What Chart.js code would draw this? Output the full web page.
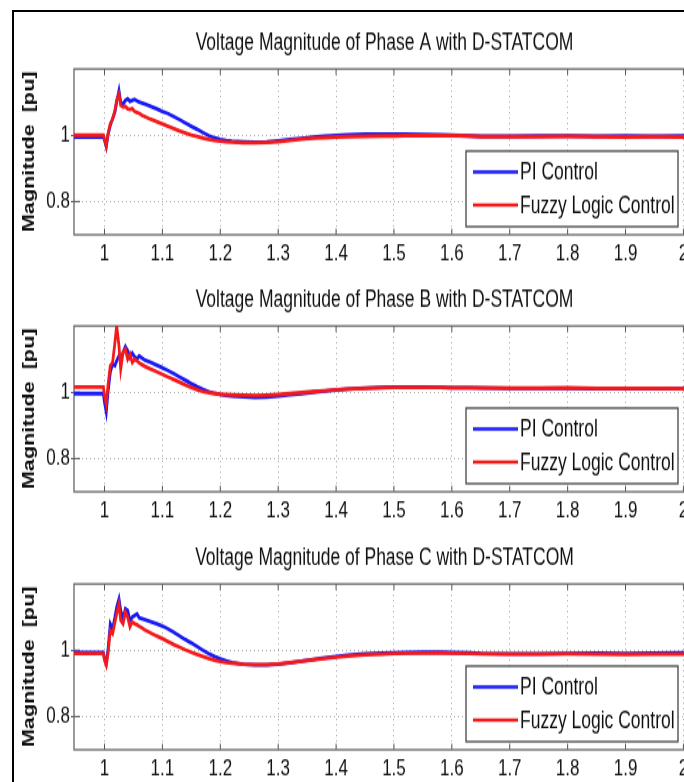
<!DOCTYPE html>
<html>
<head>
<meta charset="utf-8">
<title>Voltage Magnitude with D-STATCOM</title>
<script src="https://cdn.jsdelivr.net/npm/chart.js@4.4.1/dist/chart.umd.min.js"></script>
<style>
  html, body { margin: 0; padding: 0; background: #fff; }
  body { width: 684px; height: 782px; overflow: hidden; position: relative; }
  .frame { position: absolute; left: 12px; top: 10px; width: 720px; height: 820px; border: 2px solid #000; }
  .panel { position: absolute; left: 0; }
</style>
</head>
<body>
<div class="frame"></div>
<!-- each panel is drawn 215px tall and shown 290px tall, like the stretched figure export -->
<canvas id="phaseA" class="panel" width="695" height="215" style="top:0px;width:695px;height:290px"></canvas>
<canvas id="phaseB" class="panel" width="695" height="215" style="top:257px;width:695px;height:290px"></canvas>
<canvas id="phaseC" class="panel" width="695" height="215" style="top:515px;width:695px;height:290px"></canvas>

<script>
// time axis [s], shared by all three phases
const timeS = [0.947, 0.99, 0.998, 1.0, 1.003, 1.006, 1.01, 1.014, 1.018, 1.021, 1.025, 1.028, 1.032, 1.036, 1.04, 1.044, 1.048, 1.052, 1.056, 1.06, 1.065, 1.07, 1.08, 1.09, 1.1, 1.11, 1.12, 1.13, 1.14, 1.15, 1.16, 1.17, 1.18, 1.19, 1.2, 1.21, 1.22, 1.24, 1.26, 1.28, 1.3, 1.32, 1.34, 1.36, 1.38, 1.4, 1.42, 1.45, 1.48, 1.5, 1.52, 1.55, 1.58, 1.6, 1.63, 1.65, 1.7, 1.75, 1.8, 1.85, 1.9, 1.95, 2.0, 2.02];

const phaseA_PI = [0.995, 0.995, 0.995, 0.985, 0.965, 1.0, 1.03, 1.05, 1.07, 1.1, 1.135, 1.1, 1.095, 1.105, 1.11, 1.102, 1.105, 1.108, 1.104, 1.1, 1.097, 1.094, 1.087, 1.08, 1.072, 1.065, 1.056, 1.047, 1.037, 1.027, 1.018, 1.008, 0.999, 0.992, 0.987, 0.984, 0.982, 0.98, 0.979, 0.98, 0.983, 0.987, 0.99, 0.994, 0.997, 0.999, 1.001, 1.003, 1.004, 1.004, 1.003, 1.002, 1.001, 1.0, 0.998, 0.997, 0.997, 0.998, 0.998, 0.997, 0.998, 0.997, 0.998, 0.998];
const phaseA_Fuzzy = [1.0, 1.0, 1.0, 0.99, 0.968, 1.005, 1.035, 1.048, 1.075, 1.105, 1.125, 1.09, 1.085, 1.087, 1.08, 1.078, 1.08, 1.072, 1.069, 1.066, 1.06, 1.056, 1.048, 1.041, 1.034, 1.027, 1.02, 1.013, 1.007, 1.001, 0.996, 0.991, 0.987, 0.984, 0.982, 0.98, 0.979, 0.977, 0.977, 0.978, 0.98, 0.984, 0.988, 0.991, 0.993, 0.995, 0.996, 0.997, 0.998, 0.998, 0.999, 0.999, 0.999, 0.999, 0.998, 0.996, 0.996, 0.996, 0.997, 0.996, 0.995, 0.996, 0.995, 0.995];

const phaseB_PI = [0.996, 0.996, 0.996, 0.97, 0.94, 1.0, 1.06, 1.085, 1.08, 1.095, 1.11, 1.1, 1.12, 1.138, 1.125, 1.105, 1.118, 1.107, 1.1, 1.11, 1.103, 1.097, 1.09, 1.082, 1.074, 1.065, 1.056, 1.046, 1.036, 1.026, 1.017, 1.009, 1.002, 0.997, 0.993, 0.99, 0.988, 0.986, 0.984, 0.985, 0.988, 0.992, 0.996, 1.0, 1.004, 1.007, 1.01, 1.013, 1.015, 1.016, 1.016, 1.016, 1.015, 1.014, 1.014, 1.013, 1.012, 1.012, 1.012, 1.011, 1.011, 1.011, 1.011, 1.011];
const phaseB_Fuzzy = [1.016, 1.016, 1.016, 0.99, 0.965, 1.02, 1.08, 1.09, 1.15, 1.2, 1.14, 1.07, 1.12, 1.13, 1.1, 1.115, 1.09, 1.1, 1.095, 1.088, 1.083, 1.078, 1.07, 1.062, 1.054, 1.046, 1.038, 1.03, 1.022, 1.015, 1.008, 1.003, 0.999, 0.996, 0.994, 0.993, 0.992, 0.991, 0.99, 0.991, 0.993, 0.996, 0.999, 1.002, 1.005, 1.008, 1.01, 1.012, 1.014, 1.015, 1.015, 1.015, 1.015, 1.014, 1.014, 1.014, 1.013, 1.013, 1.014, 1.012, 1.012, 1.012, 1.011, 1.011];

const phaseC_PI = [0.993, 0.993, 0.993, 0.975, 0.96, 1.0, 1.08, 1.065, 1.1, 1.13, 1.155, 1.12, 1.095, 1.125, 1.12, 1.09, 1.1, 1.105, 1.11, 1.098, 1.095, 1.092, 1.086, 1.08, 1.073, 1.064, 1.054, 1.043, 1.032, 1.022, 1.011, 1.0, 0.99, 0.981, 0.974, 0.968, 0.963, 0.958, 0.956, 0.956, 0.958, 0.962, 0.967, 0.972, 0.977, 0.981, 0.985, 0.989, 0.991, 0.992, 0.993, 0.994, 0.994, 0.993, 0.992, 0.99, 0.989, 0.989, 0.99, 0.991, 0.99, 0.991, 0.992, 0.992];
const phaseC_Fuzzy = [0.99, 0.99, 0.99, 0.97, 0.955, 0.99, 1.06, 1.05, 1.085, 1.11, 1.14, 1.09, 1.08, 1.115, 1.1, 1.07, 1.085, 1.08, 1.077, 1.072, 1.067, 1.061, 1.052, 1.043, 1.035, 1.026, 1.017, 1.009, 1.001, 0.994, 0.987, 0.981, 0.975, 0.97, 0.966, 0.963, 0.961, 0.958, 0.957, 0.957, 0.959, 0.963, 0.967, 0.971, 0.975, 0.979, 0.982, 0.986, 0.988, 0.99, 0.991, 0.991, 0.992, 0.991, 0.99, 0.989, 0.988, 0.988, 0.989, 0.988, 0.987, 0.988, 0.988, 0.988];

const xTicks = [1, 1.1, 1.2, 1.3, 1.4, 1.5, 1.6, 1.7, 1.8, 1.9, 2];
const yTicks = [0.8, 1];
const seriesLabels = ["PI Control", "Fuzzy Logic Control"];
const panelTitles = [
  "Voltage Magnitude of Phase A with D-STATCOM",
  "Voltage Magnitude of Phase B with D-STATCOM",
  "Voltage Magnitude of Phase C with D-STATCOM",
];

const SANS = "'Liberation Sans', Arial, Helvetica, sans-serif";
const TEXT = "#111";

function toPoints(values) {
  return values.map((v, i) => ({ x: timeS[i], y: v }));
}

// box around the axes with inward ticks
const axesBox = {
  id: "axesBox",
  beforeDatasetsDraw(chart) {
    const { ctx, chartArea: a, scales } = chart;
    ctx.save();
    ctx.strokeStyle = "#555";
    ctx.lineWidth = 1;
    ctx.beginPath();
    scales.x.ticks.forEach((t) => {
      const px = scales.x.getPixelForValue(t.value);
      ctx.moveTo(px, a.bottom);
      ctx.lineTo(px, a.bottom - 4.5);
      ctx.moveTo(px, a.top);
      ctx.lineTo(px, a.top + 4.5);
    });
    scales.y.ticks.forEach((t) => {
      const py = scales.y.getPixelForValue(t.value);
      ctx.moveTo(a.left, py);
      ctx.lineTo(a.left + 6, py);
    });
    ctx.stroke();
    ctx.strokeStyle = "#666";
    ctx.lineWidth = 1.3;
    ctx.strokeRect(a.left, a.top, a.right - a.left, a.bottom - a.top);
    ctx.restore();
  },
};

// legend box in the lower right corner of the axes
const legendBox = {
  id: "legendBox",
  afterDatasetsDraw(chart) {
    const { ctx, chartArea: a } = chart;
    const w = 212, h = 56;
    const x0 = a.right - 17 - w;
    const y0 = a.bottom - 6 - h;
    ctx.save();
    ctx.fillStyle = "#fff";
    ctx.fillRect(x0, y0, w, h);
    ctx.strokeStyle = "#444";
    ctx.lineWidth = 1.3;
    ctx.strokeRect(x0, y0, w, h);
    chart.data.datasets.forEach((ds, i) => {
      const y = y0 + 15.5 + i * 24.5;
      ctx.strokeStyle = ds.borderColor;
      ctx.lineWidth = 2.6;
      ctx.beginPath();
      ctx.moveTo(x0 + 7, y);
      ctx.lineTo(x0 + 52, y);
      ctx.stroke();
      ctx.fillStyle = TEXT;
      ctx.font = "17.5px " + SANS;
      ctx.textBaseline = "middle";
      ctx.fillText(ds.label, x0 + 54, y + 1);
    });
    ctx.restore();
  },
};

function makePanel(canvasId, title, piValues, fuzzyValues) {
  const ctx = document.getElementById(canvasId).getContext("2d");
  new Chart(ctx, {
    type: "line",
    data: {
      datasets: [
        {
          label: seriesLabels[0],
          data: toPoints(piValues),
          borderColor: "#1a1af2",
          borderWidth: 2.8,
          pointRadius: 0,
          tension: 0,
          order: 1,
        },
        {
          label: seriesLabels[1],
          data: toPoints(fuzzyValues),
          borderColor: "#f21a1a",
          borderWidth: 2.8,
          pointRadius: 0,
          tension: 0,
          order: 0,
        },
      ],
    },
    options: {
      responsive: false,
      animation: false,
      layout: { padding: 0 },
      plugins: {
        legend: { display: false },
        tooltip: { enabled: false },
        title: {
          display: true,
          fullSize: false,
          text: title,
          color: TEXT,
          font: { family: SANS, size: 17.5, weight: "normal" },
          padding: { top: 21.4, bottom: 8.7 },
        },
      },
      scales: {
        x: {
          type: "linear",
          min: 0.9473,
          max: 2.02,
          afterBuildTicks: (scale) => { scale.ticks = xTicks.map((v) => ({ value: v })); },
          afterFit: (scale) => { scale.height = 41; },
          grid: { color: "#a8a8a8", lineWidth: 1, drawTicks: false },
          border: { display: false, dash: [1, 3] },
          ticks: {
            color: TEXT,
            padding: 3.8,
            maxRotation: 0,
            autoSkip: false,
            font: { family: SANS, size: 17 },
            callback: (v) => String(v),
          },
        },
        y: {
          min: 0.7,
          max: 1.2,
          afterBuildTicks: (scale) => { scale.ticks = yTicks.map((v) => ({ value: v })); },
          afterFit: (scale) => { scale.width = 74; },
          grid: { color: "#a8a8a8", lineWidth: 1, drawTicks: true, tickLength: 3, tickColor: "#555" },
          border: { display: false, dash: [1, 3] },
          ticks: {
            color: TEXT,
            padding: 1,
            font: { family: SANS, size: 17 },
            callback: (v) => String(v),
          },
          title: {
            display: true,
            text: "Magnitude  [pu]",
            color: TEXT,
            font: { family: SANS, size: 16, weight: "bold" },
            padding: { top: 20, bottom: 0 },
          },
        },
      },
    },
    plugins: [axesBox, legendBox],
  });
}

makePanel("phaseA", panelTitles[0], phaseA_PI, phaseA_Fuzzy);
makePanel("phaseB", panelTitles[1], phaseB_PI, phaseB_Fuzzy);
makePanel("phaseC", panelTitles[2], phaseC_PI, phaseC_Fuzzy);
</script>
</body>
</html>
